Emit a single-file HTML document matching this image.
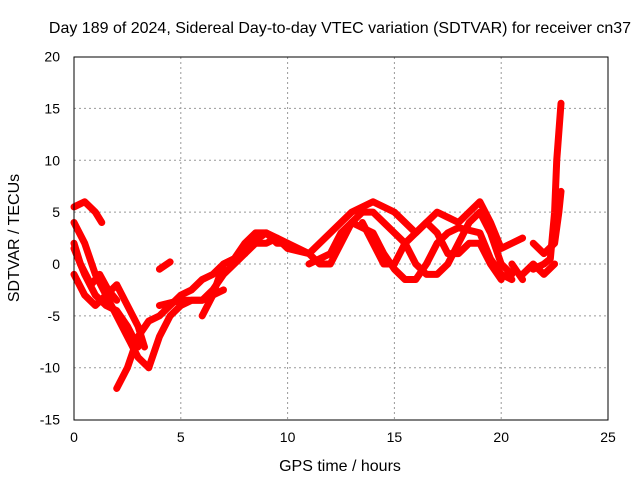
<!DOCTYPE html>
<html><head><meta charset="utf-8"><style>
body{margin:0;background:#fff;}
svg{display:block;font-family:"Liberation Sans",sans-serif;}
</style></head><body>
<svg id="chart" width="640" height="480">
<rect width="640" height="480" fill="#fff"/>
<text x="340" y="33" font-size="16" text-anchor="middle">Day 189 of 2024, Sidereal Day-to-day VTEC variation (SDTVAR) for receiver cn37</text>
<g id="grid"></g><g id="axes"></g><g id="series"></g>
<rect x="74" y="57" width="534" height="363" fill="none" stroke="#000" stroke-width="1"/>
<text x="340" y="471" font-size="16" text-anchor="middle">GPS time / hours</text>
<text x="0" y="0" font-size="16" text-anchor="middle" transform="translate(19,238) rotate(-90)">SDTVAR / TECUs</text>
</svg>
<script>
const xTicks=[0,5,10,15,20,25];
const yTicks=[-15,-10,-5,0,5,10,15,20];
const tracks=[
[[0,5.5],[0.5,6],[1,5],[1.3,4]],
[[0,4],[0.5,2],[1,-1],[1.5,-3],[2,-5],[2.5,-7],[3,-9],[3.5,-10]],
[[0,1.5],[0.5,-1],[1,-3],[1.5,-4],[2,-4.5],[2.5,-6],[3,-8]],
[[0,-1],[0.5,-3],[1,-4],[1.5,-3],[2,-2],[2.5,-4],[3,-6],[3.3,-8]],
[[0,2],[0.3,0],[0.8,-2],[1.2,-1],[1.6,-2.5],[2,-3.5]],
[[2,-12],[2.5,-10],[3,-7],[3.5,-5.5],[4,-5],[4.5,-4],[5,-3],[5.5,-2.5],[6,-1.5],[6.5,-1],[7,0],[7.5,0.5],[8,1],[8.5,2],[9,2],[9.5,2.5],[10,2]],
[[3.5,-10],[4,-7],[4.5,-5],[5,-4],[5.5,-3.5],[6,-3.5],[6.5,-2.5],[7,-1],[7.5,0],[8,1],[8.3,2],[9,3],[9.5,2.5],[10,1.5],[11,1],[11.5,0],[12,0],[12.5,2],[13,4],[13.5,5],[14,5],[14.5,4],[15,3],[15.5,2],[16,0],[16.5,-1],[17,-1],[17.5,0],[18,2],[18.5,4],[19,5],[19.5,3],[20,0],[20.5,-1]],
[[6,-5],[6.5,-3],[7,0],[7.5,0.5],[8,2],[8.5,3],[9,3],[9.5,2],[10,2],[11,1],[12,3],[13,5],[14,6],[15,5],[15.5,4],[16,3],[16.5,4],[17,5],[17.5,4.5],[18,4],[18.5,5],[19,6],[19.5,4],[20,1.5],[20.5,2],[21,2.5]],
[[11,0],[12,1],[12.5,3],[13,4],[14,3],[14.5,1],[15,-0.5],[15.5,-1.5],[16,-1.5],[16.5,0],[17,2],[17.5,3],[18,3.5],[19,3],[19.5,0.5],[20,-1],[20.5,-1.5]],
[[13.5,4],[14,2],[14.5,0],[15,0],[15.5,2],[16,3],[16.5,4],[17,3],[17.5,1],[18,1],[18.5,2],[19,2],[19.5,0],[20,-1.5]],
[[4,-4],[5,-3.5],[6,-3.5],[6.5,-3],[7,-2.5]],
[[4,-0.5],[4.5,0.2]],
[[20.5,0],[21,-1.5]],
[[21,-1],[21.5,0],[22,-1],[22.5,0]],
[[21.5,-0.5],[22,0],[22.3,0.5],[22.5,5],[22.6,10],[22.8,15.5]],
[[21.5,2],[22,1],[22.5,2],[22.7,5],[22.8,7]]
];
const X=v=>74+v*(534/25), Y=v=>264-v*(363/35);
const NS="http://www.w3.org/2000/svg";
function mk(t,a,p){const e=document.createElementNS(NS,t);for(const k in a)e.setAttribute(k,a[k]);document.getElementById(p).appendChild(e);return e;}
xTicks.forEach(t=>{
 if(t>0&&t<25){const g=mk('line',{x1:X(t),x2:X(t),y1:57,y2:420,stroke:'#999','stroke-dasharray':'2,3'},'grid');
 
 }
 const l=mk('text',{x:X(t),y:442,'font-size':14,'text-anchor':'middle'},'axes');l.textContent=t;
 
 
});
yTicks.forEach(t=>{
 if(t>-15&&t<20){const g=mk('line',{x1:74,x2:608,y1:Y(t),y2:Y(t),stroke:'#999','stroke-dasharray':'2,3'},'grid');
 
 }
 const l=mk('text',{x:60,y:Y(t)+5,'font-size':14,'text-anchor':'end'},'axes');l.textContent=t;
 
 
});
tracks.forEach(tr=>{
 const p=mk('polyline',{points:tr.map(d=>X(d[0])+','+Y(d[1])).join(' '),fill:'none',stroke:'#f00','stroke-width':7,'stroke-linejoin':'round','stroke-linecap':'round'},'series');
 
 
});
</script>
</body></html>
